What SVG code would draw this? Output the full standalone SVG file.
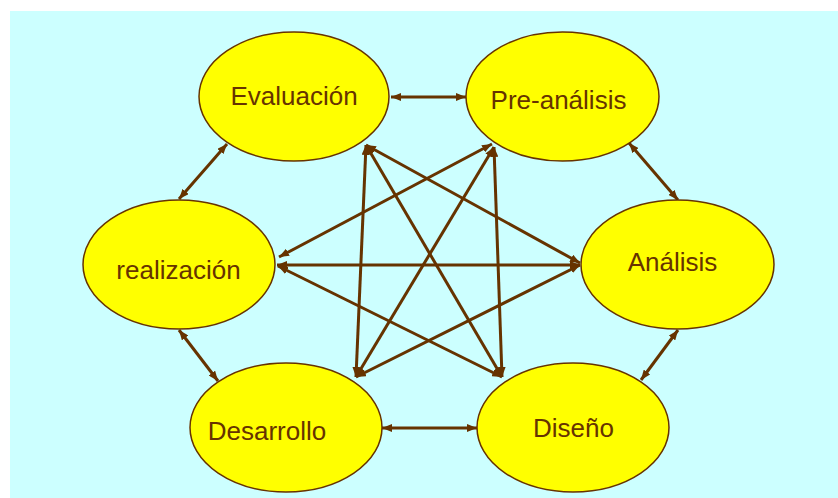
<svg xmlns="http://www.w3.org/2000/svg" width="838" height="498" viewBox="0 0 838 498">
  <style>
    .node ellipse { fill: #ffff00; stroke: #663300; stroke-width: 1.5; }
    .node text { font-family: "Liberation Sans", Arial, sans-serif; font-size: 26px; fill: #663300; text-anchor: middle; }
    .conn line { stroke: #663300; stroke-width: 3; marker-start: url(#ah); marker-end: url(#ah); }
  </style>
  <defs>
    <marker id="ah" viewBox="0 0 10 8" refX="10" refY="4" markerWidth="10" markerHeight="8" markerUnits="userSpaceOnUse" orient="auto-start-reverse">
      <path d="M0,0 L10,4 L0,8 Z" fill="#663300"/>
    </marker>
  </defs>
  <rect x="10" y="11" width="828" height="487" fill="#ccffff"/>

  <g id="connectors" class="conn">
    <line x1="391" y1="97" x2="466" y2="97"/>
    <line x1="227" y1="144" x2="179" y2="199"/>
    <line x1="629" y1="143" x2="678" y2="200"/>
    <line x1="678" y1="330" x2="641" y2="380"/>
    <line x1="477" y1="428" x2="382" y2="428"/>
    <line x1="179" y1="330" x2="218" y2="381"/>

    <line x1="366" y1="145" x2="356" y2="377"/>
    <line x1="366" y1="145" x2="502" y2="377"/>
    <line x1="366" y1="145" x2="580" y2="263"/>
    <line x1="492" y1="144" x2="279" y2="257"/>
    <line x1="494" y1="147" x2="356" y2="377"/>
    <line x1="494" y1="147" x2="502" y2="377"/>
    <line x1="277" y1="265" x2="580" y2="265"/>
    <line x1="278" y1="266" x2="502" y2="377"/>
    <line x1="580" y1="265" x2="356" y2="377"/>
  </g>

  <g id="node-evaluacion" class="node">
    <ellipse cx="294" cy="96.5" rx="95" ry="64.5"/>
    <text x="294" y="105">Evaluación</text>
  </g>
  <g id="node-preanalisis" class="node">
    <ellipse cx="562.5" cy="96.5" rx="96.5" ry="64.5"/>
    <text x="558.5" y="109">Pre-análisis</text>
  </g>
  <g id="node-analisis" class="node">
    <ellipse cx="677.5" cy="264.5" rx="96.5" ry="64.5"/>
    <text x="672.5" y="271">Análisis</text>
  </g>
  <g id="node-diseno" class="node">
    <ellipse cx="573" cy="427.5" rx="96" ry="64.5"/>
    <text x="573.5" y="437">Diseño</text>
  </g>
  <g id="node-desarrollo" class="node">
    <ellipse cx="286" cy="427.5" rx="96" ry="64.5"/>
    <text x="267" y="440">Desarrollo</text>
  </g>
  <g id="node-realizacion" class="node">
    <ellipse cx="179" cy="264.5" rx="96" ry="64.5"/>
    <text x="178.5" y="279">realización</text>
  </g>
</svg>
